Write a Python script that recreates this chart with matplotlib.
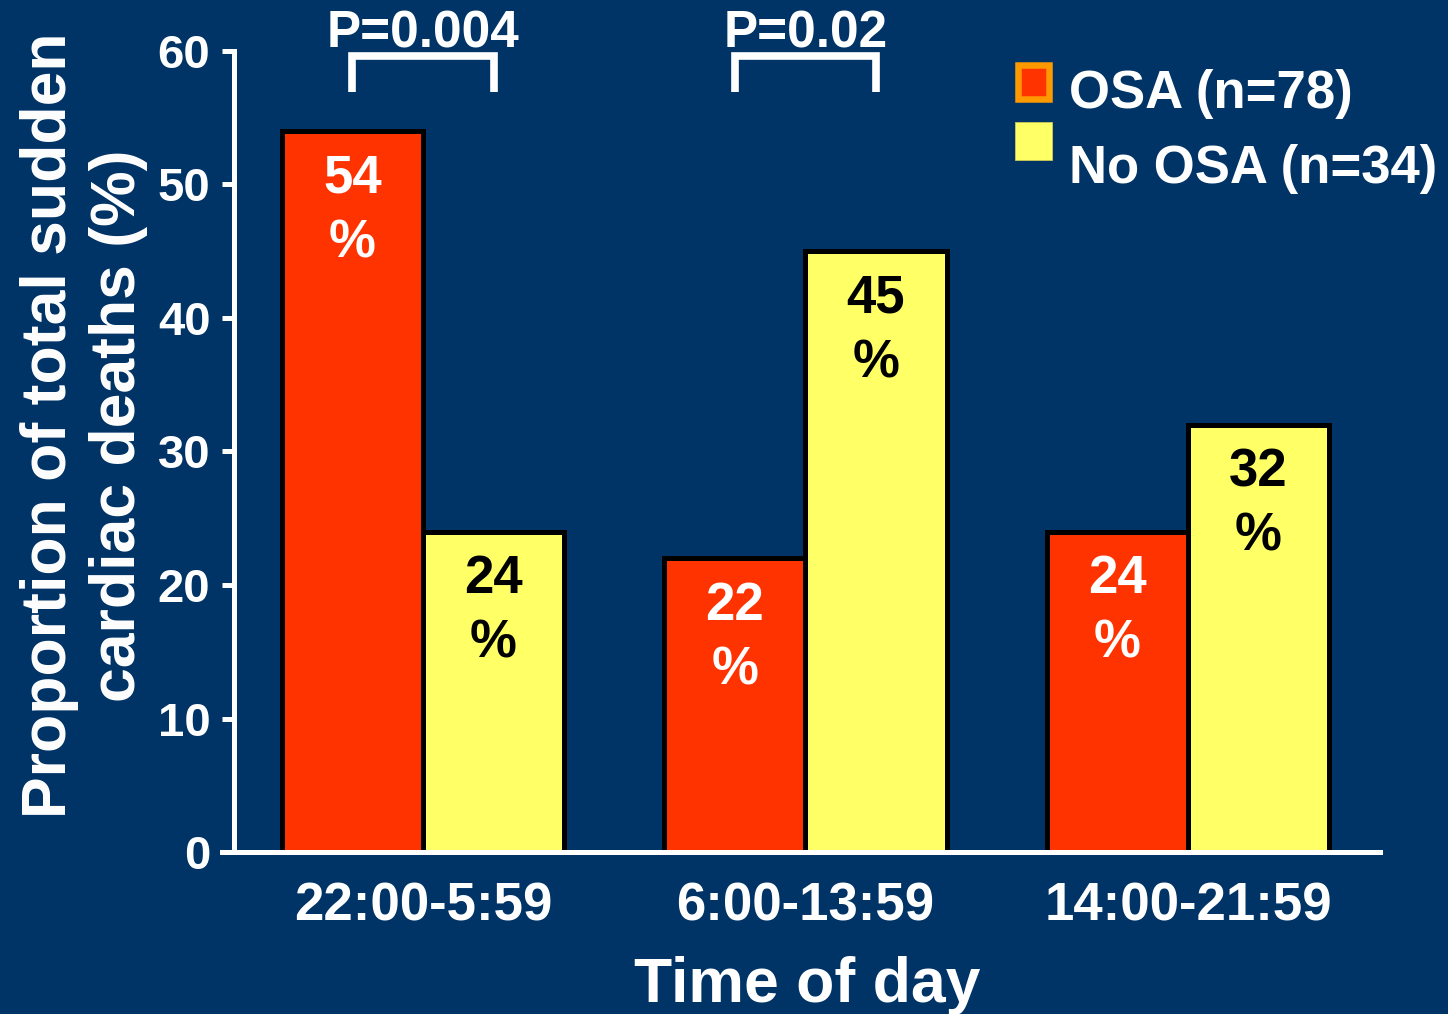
import matplotlib
matplotlib.use("Agg")
import matplotlib.pyplot as plt
from matplotlib.patches import Rectangle
import numpy as np

# Data
categories = ["22:00-5:59", "6:00-13:59", "14:00-21:59"]
osa_values = [54, 22, 24]
no_osa_values = [24, 45, 32]
series_names = ["OSA (n=78)", "No OSA (n=34)"]
p_values = ["P=0.004", "P=0.02"]
y_ticks = [0, 10, 20, 30, 40, 50, 60]

BG = "#003366"
RED = "#FF3300"
YELLOW = "#FFFF66"
ORANGE = "#FF9900"
FONT = "Liberation Sans"

plt.rcParams["font.family"] = [FONT, "DejaVu Sans"]
plt.rcParams["font.weight"] = "bold"

W, H = 1448, 1014
fig = plt.figure(figsize=(W / 100, H / 100), dpi=100, facecolor=BG)
ax = fig.add_axes([234 / W, 1 - 852 / H, (1380 - 234) / W, (852 - 51) / H])
ax.set_facecolor(BG)

x = np.arange(len(categories))
bw = 0.369
edge_lw = 3.6

bars_osa = ax.bar(x - bw / 2, osa_values, bw, color=RED, edgecolor="black",
                  linewidth=edge_lw, zorder=2)
bars_no = ax.bar(x + bw / 2, no_osa_values, bw, color=YELLOW, edgecolor="black",
                 linewidth=edge_lw, zorder=2)

# Value labels inside bars
for bars, vals, col in ((bars_osa, osa_values, "white"), (bars_no, no_osa_values, "black")):
    for b, v in zip(bars, vals):
        ax.annotate(f"{v}\n%", (b.get_x() + b.get_width() / 2, v),
                    xytext=(0, -16), textcoords="offset points",
                    ha="center", va="top", fontsize=38, fontweight="bold",
                    color=col, linespacing=1.38, zorder=3)

# Significance brackets
for i, ptxt in enumerate(p_values):
    x0 = x[i] - bw / 2
    x1 = x[i] + bw / 2
    ax.plot([x0, x0, x1, x1], [56.93, 59.63, 59.63, 56.93], color="white",
            lw=5.5, solid_joinstyle="miter", solid_capstyle="butt",
            clip_on=False, zorder=4)
    ax.text(x[i], 60.25, ptxt, ha="center", va="baseline", fontsize=37,
            fontweight="bold", color="white", clip_on=False)

ax.set_ylim(0, 60)
ax.set_xlim(-0.494, 2.502)
ax.set_yticks(y_ticks)
ax.set_xticks(x)
ax.set_xticklabels(categories)

for side in ("top", "right"):
    ax.spines[side].set_visible(False)
for side in ("left", "bottom"):
    ax.spines[side].set_color("white")
    ax.spines[side].set_linewidth(3.6)
ax.spines["bottom"].set_bounds(-0.494 - 12 / 382.5, 2.502)

ax.tick_params(axis="y", colors="white", length=9, width=3.6, pad=8,
               labelsize=34, direction="out")
ax.tick_params(axis="x", colors="white", length=0, pad=21, labelsize=38)
for lab in ax.get_xticklabels() + ax.get_yticklabels():
    lab.set_fontweight("bold")
    lab.set_color("white")

# Axis titles
fig.text(807 / W, 1 - 1002 / H, "Time of day", ha="center", va="baseline",
         fontsize=45, fontweight="bold", color="white")
fig.text(84 / W, 1 - 425.5 / H, "Proportion of total sudden\ncardiac deaths (%)",
         rotation=90, ha="center", va="center", multialignment="center",
         fontsize=45, fontweight="bold", color="white", linespacing=1.2)

# Legend
lw_px = 6.5
fig.add_artist(Rectangle(((1015 + lw_px / 2) / W, 1 - (102 - lw_px / 2) / H),
                         (37 - lw_px) / W, (40 - lw_px) / H,
                         transform=fig.transFigure, facecolor=RED,
                         edgecolor=ORANGE, linewidth=lw_px * 0.72))
fig.add_artist(Rectangle((1015 / W, 1 - 160 / H), 37 / W, 38 / H,
                         transform=fig.transFigure, facecolor=YELLOW,
                         edgecolor="#CCCC55", linewidth=0.6))
fig.text(1069 / W, 1 - 108 / H, series_names[0], ha="left", va="baseline",
         fontsize=38, fontweight="bold", color="white")
fig.text(1069 / W, 1 - 183 / H, series_names[1], ha="left", va="baseline",
         fontsize=38, fontweight="bold", color="white")

fig.savefig("out.png", dpi=100, facecolor=BG)
